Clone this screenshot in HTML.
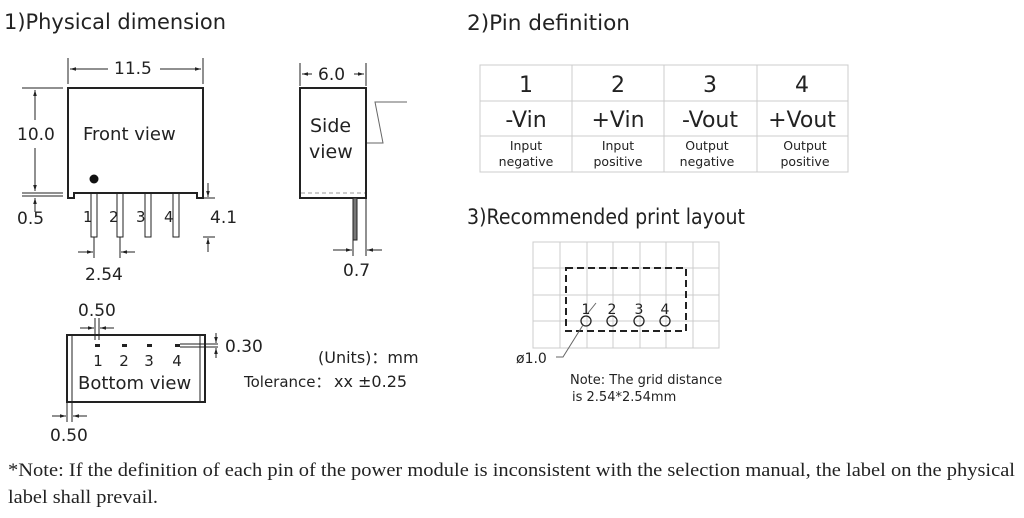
<!DOCTYPE html>
<html><head><meta charset="utf-8"><style>
html,body{margin:0;padding:0;background:#fff;width:1024px;height:518px;overflow:hidden}
svg text{font-family:"DejaVu Sans","Liberation Sans",sans-serif;fill:#222}
</style></head><body>
<svg width="1024" height="518" viewBox="0 0 1024 518" xmlns="http://www.w3.org/2000/svg">
<defs>
<marker id="a" viewBox="0 0 10 10" refX="10" refY="5" markerWidth="6" markerHeight="6" orient="auto-start-reverse"><path d="M0,2 L10,5 L0,8 z" fill="#222"/></marker>
</defs>
<g font-size="21">
<text x="4" y="29" textLength="222" lengthAdjust="spacingAndGlyphs">1)Physical dimension</text>
<text x="467" y="30" textLength="163" lengthAdjust="spacingAndGlyphs">2)Pin definition</text>
<text x="467" y="224" textLength="278" lengthAdjust="spacingAndGlyphs">3)Recommended print layout</text>
</g>
<g stroke="#222" fill="none" stroke-width="1">
<path d="M68,198 L68,88 L203,88 L203,198 L197,198 L197,193 L74,193 L74,198 Z" stroke-width="2"/>
<rect x="91" y="193" width="6" height="44"/><rect x="117" y="193" width="6" height="44"/>
<rect x="145" y="193" width="6" height="44"/><rect x="173" y="193" width="6" height="44"/>
<line x1="68" y1="58" x2="68" y2="84"/><line x1="203" y1="58" x2="203" y2="84"/>
<line x1="80" y1="69" x2="70" y2="69" marker-end="url(#a)"/><line x1="70" y1="69" x2="108" y2="69"/>
<line x1="160" y1="69" x2="201" y2="69" marker-end="url(#a)"/>
<line x1="22" y1="88" x2="63" y2="88"/><line x1="22" y1="193" x2="63" y2="193"/><line x1="22" y1="196" x2="63" y2="196"/>
<line x1="35" y1="120" x2="35" y2="90" marker-end="url(#a)"/><line x1="35" y1="148" x2="35" y2="191" marker-end="url(#a)"/>
<line x1="35" y1="212" x2="35" y2="198" marker-end="url(#a)"/>
<line x1="203" y1="198" x2="215" y2="198"/><line x1="203" y1="237" x2="215" y2="237"/>
<line x1="208" y1="183" x2="208" y2="197" marker-end="url(#a)"/><line x1="208" y1="252" x2="208" y2="238" marker-end="url(#a)"/>
<line x1="94" y1="237" x2="94" y2="258"/><line x1="120" y1="237" x2="120" y2="258"/>
<line x1="78" y1="252" x2="93" y2="252" marker-end="url(#a)"/><line x1="135" y1="252" x2="121" y2="252" marker-end="url(#a)"/>
<rect x="300" y="88" width="66" height="110" stroke-width="2"/>
<line x1="301" y1="193" x2="365" y2="193" stroke="#999" stroke-dasharray="4,3"/>
<rect x="353" y="198" width="4" height="42" fill="#777"/>
<line x1="300" y1="63" x2="300" y2="86"/><line x1="366" y1="63" x2="366" y2="86"/>
<line x1="312" y1="74" x2="302" y2="74" marker-end="url(#a)"/><line x1="354" y1="74" x2="364" y2="74" marker-end="url(#a)"/>
<polyline points="367,143 383,143 375,102 407,102" stroke="#666"/>
<line x1="353" y1="240" x2="353" y2="256"/><line x1="366" y1="198" x2="366" y2="256"/>
<line x1="333" y1="250" x2="352" y2="250" marker-end="url(#a)"/><line x1="382" y1="250" x2="367" y2="250" marker-end="url(#a)"/>
<rect x="67" y="335" width="138" height="67" stroke-width="2"/>
<line x1="72" y1="335" x2="72" y2="402"/><line x1="200" y1="335" x2="200" y2="402"/>
<line x1="95" y1="318" x2="95" y2="340"/><line x1="99" y1="318" x2="99" y2="340"/>
<line x1="80" y1="328" x2="94" y2="328" marker-end="url(#a)"/><line x1="114" y1="328" x2="100" y2="328" marker-end="url(#a)"/>
<line x1="180" y1="344" x2="218" y2="344"/><line x1="180" y1="347" x2="218" y2="347"/>
<line x1="216" y1="333" x2="216" y2="343" marker-end="url(#a)"/><line x1="216" y1="358" x2="216" y2="348" marker-end="url(#a)"/>
<line x1="67" y1="402" x2="67" y2="422"/><line x1="72" y1="402" x2="72" y2="422"/>
<line x1="52" y1="416" x2="66" y2="416" marker-end="url(#a)"/><line x1="87" y1="416" x2="73" y2="416" marker-end="url(#a)"/>
</g>
<circle cx="94" cy="179" r="4.5" fill="#111"/>
<g fill="#222"><rect x="95" y="344" width="5" height="3"/><rect x="122" y="344" width="5" height="3"/><rect x="147" y="344" width="5" height="3"/><rect x="175" y="344" width="5" height="3"/></g>
<g font-size="17">
<text x="114" y="74">11.5</text>
<text x="17" y="140">10.0</text>
<text x="83" y="140" font-size="18">Front view</text>
<text x="17" y="224">0.5</text>
<text x="83" y="222" font-size="15" fill="#444">1</text><text x="109" y="222" font-size="15" fill="#444">2</text>
<text x="136" y="222" font-size="15" fill="#444">3</text><text x="164" y="222" font-size="15" fill="#444">4</text>
<text x="210" y="223">4.1</text>
<text x="85" y="280">2.54</text>
<text x="318" y="80">6.0</text>
<text x="310" y="132" font-size="19">Side</text>
<text x="309" y="158" font-size="19">view</text>
<text x="343" y="276">0.7</text>
<text x="78" y="316">0.50</text>
<g font-size="15" text-anchor="middle"><text x="98" y="366">1</text><text x="124" y="366">2</text><text x="149" y="366">3</text><text x="177" y="366">4</text></g>
<text x="78" y="389" font-size="18">Bottom view</text>
<text x="225" y="352">0.30</text>
<text x="318" y="363" font-size="16">(Units)：mm</text>
<text x="244" y="387" font-size="15">Tolerance：</text><text x="334" y="387" font-size="16">xx ±0.25</text>
<text x="50" y="441">0.50</text>
</g>
<g stroke="#ccc" fill="none">
<rect x="480" y="65" width="368" height="107"/>
<line x1="480" y1="101" x2="848" y2="101"/><line x1="480" y1="136" x2="848" y2="136"/>
<line x1="572" y1="65" x2="572" y2="172"/><line x1="664" y1="65" x2="664" y2="172"/><line x1="757" y1="65" x2="757" y2="172"/>
</g>
<g font-size="22" text-anchor="middle">
<text x="526" y="92">1</text><text x="618" y="92">2</text><text x="710" y="92">3</text><text x="802" y="92">4</text>
<text x="526" y="127">-Vin</text><text x="618" y="127">+Vin</text><text x="710" y="127">-Vout</text><text x="802" y="127">+Vout</text>
</g>
<g font-size="12.5" text-anchor="middle">
<text x="526" y="150">Input</text><text x="526" y="166">negative</text>
<text x="618" y="150">Input</text><text x="618" y="166">positive</text>
<text x="707" y="150">Output</text><text x="707" y="166">negative</text>
<text x="805" y="150">Output</text><text x="805" y="166">positive</text>
</g>
<g stroke="#ccc" fill="none">
<rect x="533" y="242" width="186" height="106"/>
<line x1="560" y1="242" x2="560" y2="348"/><line x1="587" y1="242" x2="587" y2="348"/><line x1="613" y1="242" x2="613" y2="348"/>
<line x1="640" y1="242" x2="640" y2="348"/><line x1="666" y1="242" x2="666" y2="348"/><line x1="693" y1="242" x2="693" y2="348"/>
<line x1="533" y1="268" x2="719" y2="268"/><line x1="533" y1="295" x2="719" y2="295"/><line x1="533" y1="321" x2="719" y2="321"/>
</g>
<rect x="566" y="268" width="120" height="63" fill="none" stroke="#222" stroke-width="2" stroke-dasharray="7,4"/>
<g fill="none" stroke="#222" stroke-width="1.3">
<circle cx="586" cy="321" r="5"/><circle cx="612" cy="321" r="5"/><circle cx="639" cy="321" r="5"/><circle cx="665" cy="321" r="5"/>
</g>
<polyline points="556,357 563,357 583,325" fill="none" stroke="#666"/>
<line x1="588" y1="313" x2="596" y2="303" stroke="#666"/>
<g font-size="14" text-anchor="middle"><text x="586" y="314">1</text><text x="612" y="314">2</text><text x="639" y="314">3</text><text x="665" y="314">4</text></g>
<text x="516" y="363" font-size="14">ø1.0</text>
<text x="570" y="384" font-size="13">Note: The grid distance</text>
<text x="572" y="401" font-size="13">is 2.54*2.54mm</text>
<g font-size="19">
<text x="8" y="476" textLength="1007" lengthAdjust="spacingAndGlyphs" style="font-family:'Liberation Serif',serif">*Note: If the definition of each pin of the power module is inconsistent with the selection manual, the label on the physical</text>
<text x="8" y="503" textLength="150" lengthAdjust="spacingAndGlyphs" style="font-family:'Liberation Serif',serif">label shall prevail.</text>
</g>
</svg>
</body></html>
